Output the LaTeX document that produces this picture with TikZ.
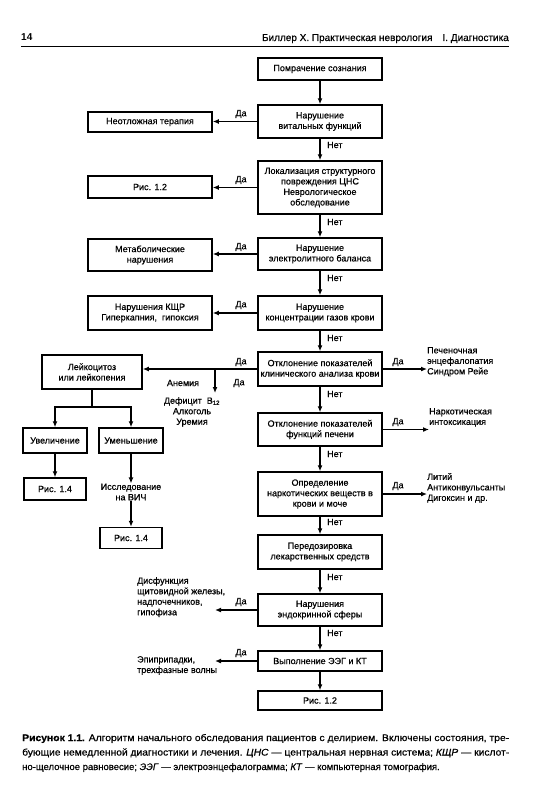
\documentclass[tikz,border=0pt]{standalone}
\usepackage{fontspec}
\setmainfont{Liberation Sans}
\newfontfamily\heavy{Liberation Sans}[FakeBold=0.6]
\usepackage{graphicx}
\usetikzlibrary{arrows.meta}
\newcommand{\bx}{\heavy\fontsize{9}{10.5}\selectfont}
\newcommand{\capf}{\heavy\fontsize{9.5}{12}\selectfont}
\begin{document}
\begin{tikzpicture}[x=1pt,y=-1pt,
  box/.style={draw, line width=1.5pt, align=center, inner sep=1pt, font=\bx, minimum width=124pt},
  arr/.style={line width=1.4pt, -{Latex[length=6pt,width=5pt]}},
  ln/.style={line width=1.4pt},
  lbl/.style={font=\bx, inner sep=0pt},
  txt/.style={font=\bx, inner sep=0pt, align=left}]
\useasboundingbox (0,0) rectangle (551,800);
\fill[white] (0,0) rectangle (551,800);
% header
\node[anchor=base west, inner sep=0pt, font=\fontsize{10}{12}\selectfont\bfseries] (pg) at (21,41) {14};
\node[anchor=base east, inner sep=0pt, font=\heavy\fontsize{10}{12}\selectfont] (ttl) at (509,41) {Биллер Х. Практическая неврология\quad I. Диагностика};
\draw[line width=1.8pt] (pg.south west |- 0,46.5) coordinate (r1) -- (509,46.5) coordinate (r2);
% main column
\node[box, minimum height=22pt] (b1) at (320,69) {Помрачение сознания};
\node[box, minimum height=33pt] (b2) at (320,121.5) {Нарушение\\витальных функций};
\node[box, minimum height=53pt] (b3) at (320,187.5) {Локализация структурного\\повреждения ЦНС\\Неврологическое\\обследование};
\node[box, minimum height=32pt] (b4) at (320,254) {Нарушение\\электролитного баланса};
\node[box, minimum height=34pt] (b5) at (320,313) {Нарушение\\концентрации газов крови};
\node[box, minimum height=34pt] (b6) at (320,369) {Отклонение показателей\\клинического анализа крови};
\node[box, minimum height=33pt] (b7) at (320,429.5) {Отклонение показателей\\функций печени};
\node[box, minimum height=44pt] (b8) at (320,494) {Определение\\наркотических веществ в\\крови и моче};
\node[box, minimum height=34pt] (b9) at (320,552) {Передозировка\\лекарственных средств};
\node[box, minimum height=32pt] (b10) at (320,610) {Нарушения\\эндокринной сферы};
\node[box, minimum height=20pt] (b11) at (320,661) {Выполнение ЭЭГ и КТ};
\node[box, minimum height=19pt] (b12) at (320,700.5) {Рис. 1.2};
\foreach \a/\b in {b1/b2,b2/b3,b3/b4,b4/b5,b5/b6,b6/b7,b7/b8,b8/b9,b9/b10,b10/b11,b11/b12}
  \draw[arr] (\a) -- (\b);
% Net labels
\node[lbl, anchor=west] (n2) at (327,145) {Нет};
\node[lbl, anchor=west] (n3) at (327,222) {Нет};
\node[lbl, anchor=west] (n4) at (327,278) {Нет};
\node[lbl, anchor=west] (n5) at (327,338) {Нет};
\node[lbl, anchor=west] (n6) at (327,394) {Нет};
\node[lbl, anchor=west] (n7) at (327,454) {Нет};
\node[lbl, anchor=west] (n8) at (327,522) {Нет};
\node[lbl, anchor=west] (n9) at (327,577) {Нет};
\node[lbl, anchor=west] (n10) at (327,633) {Нет};
% left boxes
\node[box, minimum height=20pt] (l1) at (150,122) {Неотложная терапия};
\node[box, minimum height=22pt] (l2) at (150,187) {Рис. 1.2};
\node[box, minimum height=32pt] (l3) at (150,255) {Метаболические\\нарушения};
\node[box, minimum height=34pt] (l4) at (150,313) {Нарушения КЩР\\Гиперкапния,\ \ гипоксия};
\draw[arr] (b2.west) -- (b2.west -| l1.east);
\draw[arr] (b3.west) -- (b3.west -| l2.east);
\draw[arr] (b4.west) -- (b4.west -| l3.east);
\draw[arr] (b5.west) -- (b5.west -| l4.east);
\node[lbl] (y2) at (241,114) {Да};
\node[lbl] (y3) at (241,180) {Да};
\node[lbl] (y4) at (241,247) {Да};
\node[lbl] (y5) at (241,305) {Да};
% blood analysis branch
\node[box, minimum width=100pt, minimum height=34pt] (lk) at (92,372) {Лейкоцитоз\\или лейкопения};
\draw[arr] (b6.west) -- (b6.west -| lk.east);
\node[lbl] (y6) at (241,362) {Да};
\coordinate (br) at (215,369);
\coordinate (brd) at (215,393);
\draw[arr] (br) -- (brd);
\node[lbl] (an) at (183,383) {Анемия};
\node[lbl] (y6b) at (239,383) {Да};
\node[txt, align=center, anchor=north] (def) at (192,397) {Дефицит\ \ B\textsubscript{12}\\Алкоголь\\Уремия};
\node[box, minimum width=64pt, minimum height=25pt] (uv) at (55,440.5) {Увеличение};
\node[box, minimum width=64pt, minimum height=25pt] (um) at (131,440.5) {Уменьшение};
\coordinate (tj) at (lk.south |- 0,407);
\draw[ln] (lk.south) -- (tj);
\draw[arr] (tj) -| (uv.north);
\draw[arr] (tj) -| (um.north);
\node[box, minimum width=62pt, minimum height=22pt] (r14a) at (55,489) {Рис. 1.4};
\draw[arr] (uv) -- (r14a);
\node[txt, align=center] (hiv) at (131,492) {Исследование\\на ВИЧ};
\draw[arr] (um) -- (hiv);
\node[box, minimum width=62pt, minimum height=21pt] (r14b) at (131,538) {Рис. 1.4};
\draw[arr] (hiv) -- (r14b);
% right side outcomes
\node[txt, anchor=north west] (p1) at (427,347) {Печеночная\\энцефалопатия\\Синдром Рейе};
\draw[arr] (b6.east) -- (b6.east -| p1.west);
\node[lbl] (y7r) at (398,362) {Да};
\node[txt, anchor=north west] (p2) at (429,408) {Наркотическая\\интоксикация};
\draw[arr] (b7.east) -- (b7.east -| p2.west);
\node[lbl] (y8r) at (398,422) {Да};
\node[txt, anchor=north west] (p3) at (427,473) {Литий\\Антиконвульсанты\\Дигоксин и др.};
\draw[arr] (b8.east) -- (b8.east -| p3.west);
\node[lbl] (y9r) at (398,486) {Да};
% left outcomes
\node[txt, anchor=north west] (dy) at (137,577) {Дисфункция\\щитовидной железы,\\надпочечников,\\гипофиза};
\coordinate (dya) at (215,610);
\draw[arr] (b10.west) -- (dya);
\node[lbl] (y10) at (241,602) {Да};
\node[txt, anchor=north west] (ep) at (137,656) {Эпиприпадки,\\трехфазные волны};
\coordinate (epa) at (215,661);
\draw[arr] (b11.west) -- (epa);
\node[lbl] (y11) at (241,653) {Да};
% caption
\node[anchor=base west, inner sep=0pt, font=\capf] (c1) at (22,741) {\resizebox{487pt}{\height}{\textbf{Рисунок 1.1.} Алгоритм начального обследования пациентов с делирием. Включены состояния, тре-}};
\node[anchor=base west, inner sep=0pt, font=\capf] (c2) at (22,755.5) {\resizebox{487pt}{\height}{бующие немедленной диагностики и лечения. \textit{ЦНС} — центральная нервная система; \textit{КЩР} — кислот-}};
\node[anchor=base west, inner sep=0pt, font=\capf] (c3) at (22,770) {но-щелочное равновесие; \textit{ЭЭГ} — электроэнцефалограмма; \textit{КТ} — компьютерная томография.};
\end{tikzpicture}
\end{document}
